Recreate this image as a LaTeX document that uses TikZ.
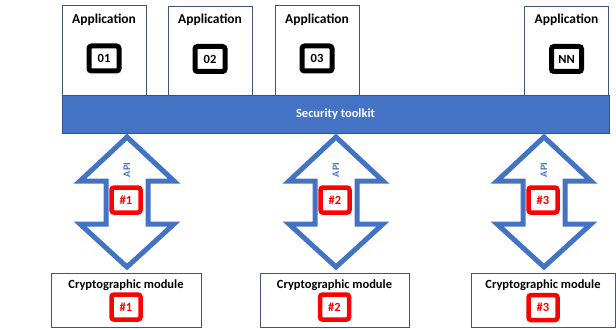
\documentclass[tikz,border=0pt]{standalone}
\usepackage{fontspec}
\setmainfont{Carlito}
\usetikzlibrary{positioning}
\definecolor{tkblue}{RGB}{68,114,196}
\definecolor{tkedge}{RGB}{47,82,143}
\definecolor{boxedge}{RGB}{65,85,120}
\definecolor{badgered}{RGB}{255,0,0}

\tikzset{
  appbox/.style={draw=boxedge,line width=1pt,fill=white,minimum width=84,minimum height=89,inner sep=0},
  appbadge/.style={draw=black,line width=5pt,rounded corners=2.5pt,fill=white,minimum width=30,minimum height=25,inner sep=0,font=\bfseries\fontsize{12.5}{14}\selectfont},
  redbadge/.style={draw=badgered,line width=4.5pt,rounded corners=2.5pt,fill=white,text=badgered,minimum width=29,minimum height=25,inner sep=0,font=\bfseries\fontsize{12.5}{14}\selectfont},
  modbox/.style={draw=boxedge,line width=1pt,fill=white,minimum height=54,inner sep=0},
  apiarrow/.style={draw=tkblue,line width=5pt,fill=white,line join=miter},
  title/.style={font=\bfseries\fontsize{13.5}{15}\selectfont,inner sep=0}
}

\begin{document}
\begin{tikzpicture}[x=1pt,y=-1pt]
\useasboundingbox (0,0) rectangle (616,329);
% applications
\node[appbox] (app1) at (104,50.5) {};
\node[appbox] (app2) at (210,51) {};
\node[appbox] (app3) at (317,50.5) {};
\node[appbox] (appN) at (566.5,51) {};
\foreach \a/\t in {app1/01,app2/02,app3/03,appN/NN}{
  \node[title,below=8pt of \a.north] (\a-title) {Application};
  \node[appbadge] (\a-badge) at ([yshift=-8pt]\a.center) {\t};
}
% toolkit bar
\node[draw=tkedge,line width=1pt,fill=tkblue,text=white,minimum width=547,minimum height=38,inner sep=0,
  font=\bfseries\fontsize{12.5}{14}\selectfont] (toolkit) at (335.5,114) {Security toolkit};
% crypto modules
\node[modbox,minimum width=150] (mod1) at (126,300) {};
\node[modbox,minimum width=149] (mod2) at (334.5,300) {};
\node[modbox,minimum width=144] (mod3) at (543,300.5) {};
% api arrows
\foreach \cx/\n in {127/1,336/2,544/3}{
  \draw[apiarrow] (\cx,137) -- (\cx+47,181) -- (\cx+21,181) -- (\cx+21,224) -- (\cx+47,224)
    -- (\cx,267) -- (\cx-47,224) -- (\cx-21,224) -- (\cx-21,181) -- (\cx-47,181) -- cycle;
  \node[rotate=90,text=tkblue,font=\bfseries\fontsize{10}{12}\selectfont,inner sep=0] (api\n) at (\cx,170) {API};
  \node[redbadge] (arrbadge\n) at (\cx-1,200) {\#\n};
}
\foreach \n in {1,2,3}{
  \node[title,font=\bfseries\fontsize{12.5}{14}\selectfont,below=7pt of mod\n.north] (mod\n-title) {Cryptographic module};
  \node[redbadge] (modbadge\n) at ([yshift=-7pt]mod\n.center) {\#\n};
}
\end{tikzpicture}
\end{document}
